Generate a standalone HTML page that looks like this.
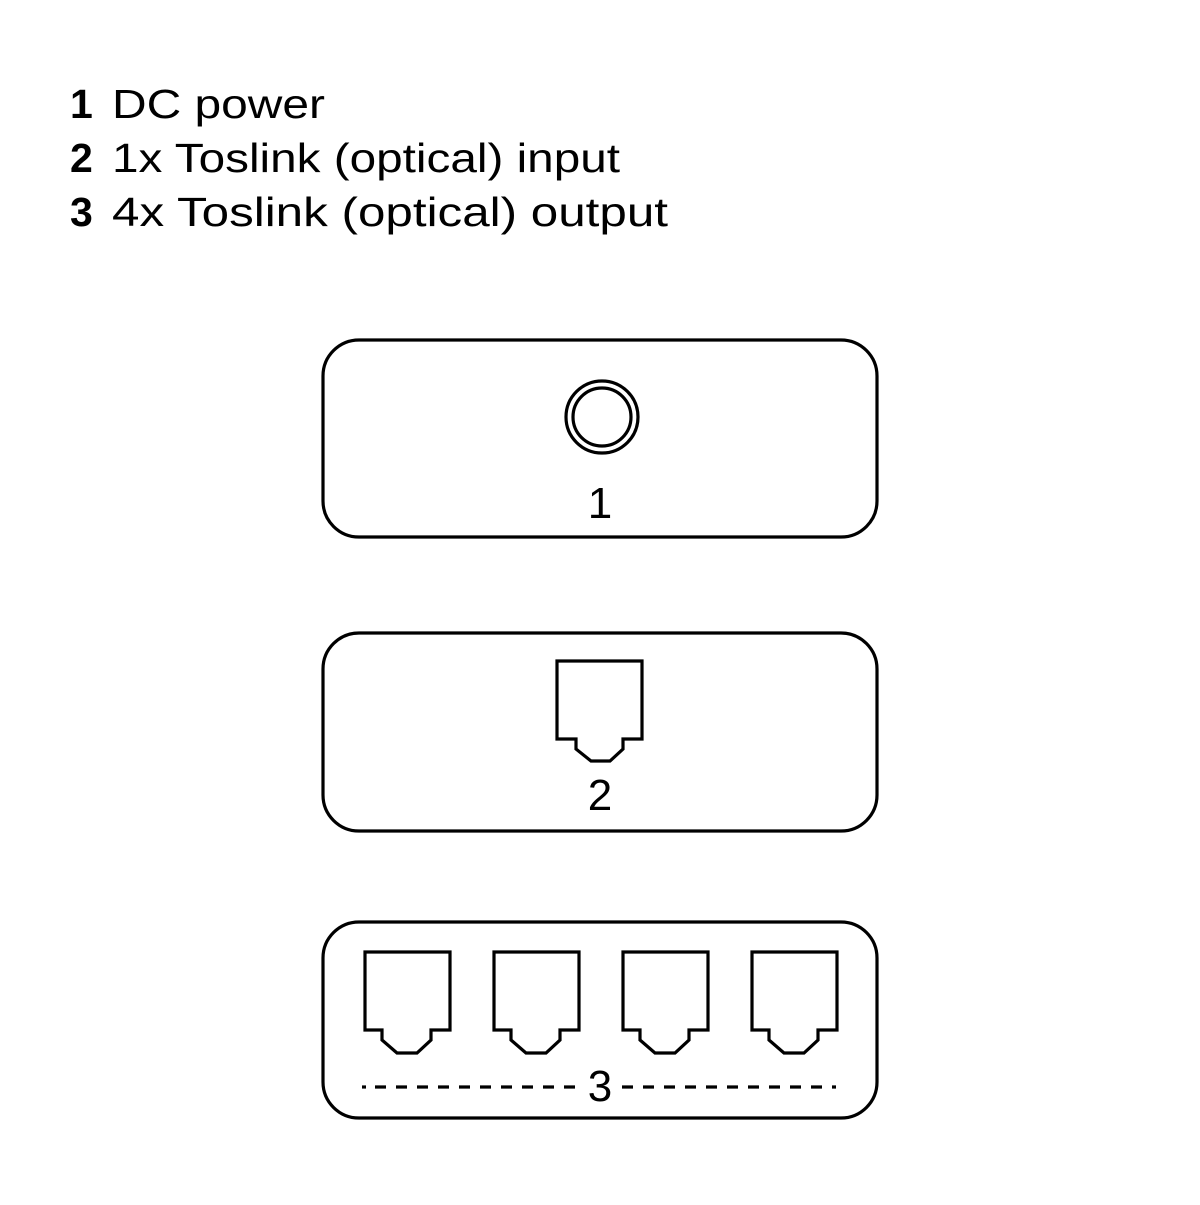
<!DOCTYPE html>
<html><head><style>
body{margin:0;width:1200px;height:1200px;background:#fff;overflow:hidden}
</style></head><body>
<svg width="1200" height="1200" xmlns="http://www.w3.org/2000/svg" font-family="Liberation Sans, sans-serif">
<g font-size="41" fill="#000">
<text x="70" y="118" font-weight="bold">1</text>
<text x="112" y="118" textLength="213" lengthAdjust="spacingAndGlyphs">DC power</text>
<text x="70" y="172" font-weight="bold">2</text>
<text x="112" y="172" textLength="508" lengthAdjust="spacingAndGlyphs">1x Toslink (optical) input</text>
<text x="70" y="226" font-weight="bold">3</text>
<text x="112" y="226" textLength="556" lengthAdjust="spacingAndGlyphs">4x Toslink (optical) output</text>
</g>
<g fill="none" stroke="#000" stroke-width="3.2">
<rect x="323" y="340" width="554" height="197" rx="36"/>
<rect x="323" y="633" width="554" height="198" rx="36"/>
<rect x="323" y="922" width="554" height="196" rx="36"/>
<circle cx="602" cy="417" r="36"/>
<circle cx="602" cy="417" r="29"/>
<path d="M557 661H642V739H623V749L610 761H591L576 749V739H557Z"/>
<g id="p"><path d="M365 952H450V1030H431V1040L417 1053H397L382 1040V1030H365Z"/></g>
<use href="#p" x="129"/><use href="#p" x="258"/><use href="#p" x="387"/>
<line x1="362" y1="1087" x2="366" y2="1087"/>
<line x1="375" y1="1087" x2="577" y2="1087" stroke-dasharray="11 10"/>
<line x1="622" y1="1087" x2="836" y2="1087" stroke-dasharray="11 10"/>
</g>
<g font-size="44" fill="#000" text-anchor="middle">
<text x="600" y="518">1</text>
<text x="600" y="810">2</text>
<text x="600" y="1101">3</text>
</g>
</svg>
</body></html>
